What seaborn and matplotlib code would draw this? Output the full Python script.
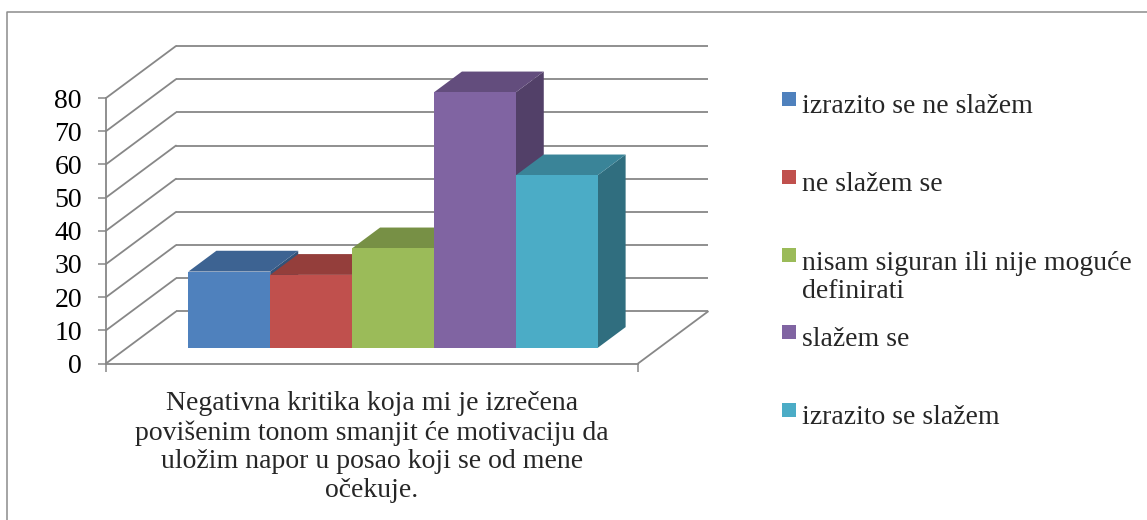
import numpy as np
import pandas as pd
import matplotlib
matplotlib.use("Agg")
import matplotlib.pyplot as plt
import matplotlib.transforms as mtransforms
from matplotlib.patches import Polygon, Rectangle
from matplotlib.lines import Line2D
from matplotlib.colors import to_rgb
import seaborn as sns

# ---------------- data ----------------
categories = [
    "izrazito se ne slažem",
    "ne slažem se",
    "nisam siguran ili nije moguće\ndefinirati",
    "slažem se",
    "izrazito se slažem",
]
values = [23, 22, 30, 77, 52]
colors = ["#4F81BD", "#C0504D", "#9BBB59", "#8064A2", "#4BACC6"]
y_ticks = [0, 10, 20, 30, 40, 50, 60, 70, 80]
y_tick_labels = ["0", "10", "20", "30", "40", "50", "60", "70", "80"]
group_label = ("Negativna kritika koja mi je izrečena\n"
               "povišenim tonom smanjit će motivaciju da\n"
               "uložim napor u posao koji se od mene\n"
               "očekuje.")

# ---------------- style ----------------
sns.set_style("white")
plt.rcParams['font.family'] = ['Liberation Serif', 'DejaVu Serif']
FS = 20
GRID = '#878787'

W, H = 1147, 520
fig = plt.figure(figsize=(W / 100, H / 100), dpi=100)
ax_l, ax_r, ax_t, ax_b = 106, 708, 46, 363.5
ax = fig.add_axes([ax_l / W, 1 - ax_b / H, (ax_r - ax_l) / W, (ax_b - ax_t) / H])

df = pd.DataFrame({"cat": categories, "val": values})
sns.barplot(data=df, x="cat", y="val", hue="cat", palette=colors, width=1.0,
            saturation=1, errorbar=None, legend=False, ax=ax)

# oblique 3D geometry (data units)
X_LEFT, X_RIGHT = -1.25, 5.25      # floor front edge
DX, DY = 0.855, 15.67              # full depth shift
D0, DD = 0.3, 0.4                  # bar front depth, bar depth

ax.set_xlim(X_LEFT, X_RIGHT + DX)
ax.set_ylim(0, y_ticks[-1] + DY)

# back wall gridlines + side wall diagonals
for v in y_ticks:
    ax.plot([X_LEFT + DX, X_RIGHT + DX], [v + DY, v + DY], color=GRID, lw=1.3,
            zorder=1, clip_on=False, solid_capstyle='butt')
    ax.plot([X_LEFT, X_LEFT + DX], [v, v + DY], color=GRID, lw=1.3,
            zorder=1, clip_on=False)
# floor right edge
ax.plot([X_RIGHT, X_RIGHT + DX], [0, DY], color=GRID, lw=1.3, zorder=1, clip_on=False)

# 3D bars
off = mtransforms.Affine2D().translate(D0 * DX, D0 * DY) + ax.transData
bars = sorted(ax.patches, key=lambda p: p.get_x())
for i, p in enumerate(bars):
    x0, w, h = p.get_x(), p.get_width(), p.get_height()
    base = np.array(to_rgb(p.get_facecolor()))
    top_c = tuple(base * 0.77)
    side_c = tuple(base * 0.64)
    p.set_transform(off)
    p.set_edgecolor('none')
    p.set_zorder(3 + i * 0.1 + 0.05)
    top = Polygon([(x0, h), (x0 + w, h), (x0 + w + DD * DX, h + DD * DY),
                   (x0 + DD * DX, h + DD * DY)], closed=True, transform=off,
                  facecolor=top_c, edgecolor='none', zorder=3 + i * 0.1)
    side = Polygon([(x0 + w, 0), (x0 + w, h), (x0 + w + DD * DX, h + DD * DY),
                    (x0 + w + DD * DX, DD * DY)], closed=True, transform=off,
                   facecolor=side_c, edgecolor='none', zorder=3 + i * 0.1)
    ax.add_patch(side)
    ax.add_patch(top)

# spines
for s in ['top', 'right']:
    ax.spines[s].set_visible(False)
for s in ['left', 'bottom']:
    ax.spines[s].set_color(GRID)
    ax.spines[s].set_linewidth(1.3)
ax.spines['left'].set_bounds(0, y_ticks[-1])
ax.spines['bottom'].set_bounds(X_LEFT, X_RIGHT)

ax.set_yticks(y_ticks)
ax.set_yticklabels(y_tick_labels)
ax.tick_params(axis='y', left=True, direction='out', length=5.8, width=1.1,
               color=GRID, pad=11.5, labelsize=FS, labelcolor='black')

ax.set_xticks([X_LEFT, X_RIGHT])
ax.set_xticklabels(['', ''])
ax.set_xticks([(X_LEFT + X_RIGHT) / 2], minor=True)
ax.set_xticklabels([group_label], minor=True, fontsize=FS, linespacing=1.2)
ax.tick_params(axis='x', which='major', bottom=True, direction='out', length=5.8,
               width=1.1, color=GRID)
ax.tick_params(axis='x', which='minor', bottom=True, length=0, pad=20)
ax.set_xlabel('')
ax.set_ylabel('')
ax.patch.set_alpha(0)

# legend (Excel-style, handle aligned with first text line)
leg_top = 99
leg_step = 77.75
line_pitch = 30
for i, (cat, col) in enumerate(zip(categories, colors)):
    c = leg_top + leg_step * i
    n_extra = cat.count("\n")
    fig.add_artist(Rectangle((782 / W, 1 - (c + 7) / H), 14 / W, 14 / H,
                             transform=fig.transFigure, facecolor=col, edgecolor='none'))
    fig.text(802 / W, 1 - (c + 14 + line_pitch * n_extra) / H, cat, va='baseline',
             ha='left', fontsize=FS, linespacing=1.2)

# outer chart border
fig.add_artist(Line2D([7 / W, 7 / W, 1.0], [0.0, 1 - 12 / H, 1 - 12 / H],
                      transform=fig.transFigure, color='#8c8c8c', lw=1.1))

fig.savefig('out.png', dpi=100)
